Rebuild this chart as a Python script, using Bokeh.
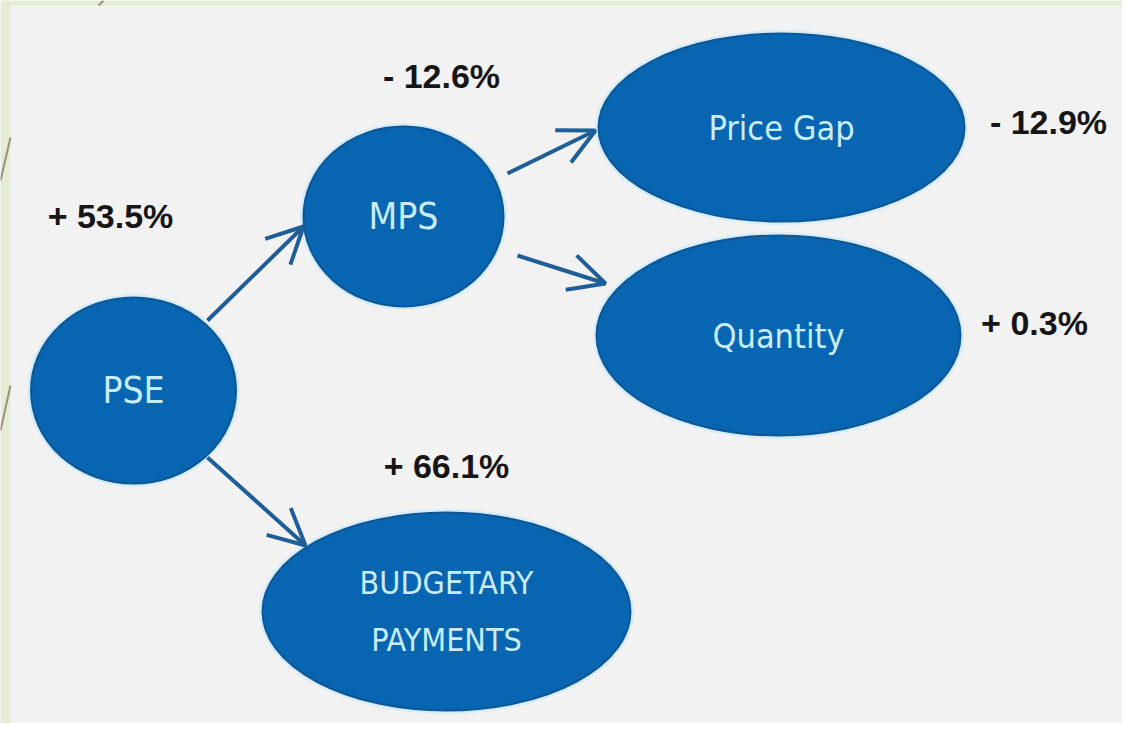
from bokeh.plotting import figure
from bokeh.models import Range1d, Arrow, OpenHead, ColumnDataSource
from bokeh.core.properties import value
from bokeh.embed import file_html
from bokeh.resources import INLINE

# ---- data ----
nodes = ["PSE", "MPS", "Price Gap", "Quantity", "BUDGETARY\nPAYMENTS"]
change_pct = [53.5, -12.6, -12.9, 0.3, 66.1]
edge_from = ["PSE", "PSE", "MPS", "MPS"]
edge_to = ["MPS", "BUDGETARY\nPAYMENTS", "Price Gap", "Quantity"]

# ---- layout (pixel space of the picture) ----
node_cx = [133, 403, 781, 778, 446]
node_cy = [390, 216, 127, 335, 611]
node_w = [205, 200, 366, 364, 368]
node_h = [186, 180, 188, 200, 198]
node_fs = ["37px", "37px", "34px", "34px", "32px"]
label_cx = [110, 441, 1048, 1034, 446]
label_cy = [215, 75, 121, 322, 465]
arrow_start = {("PSE", "MPS"): (207, 320), ("PSE", "BUDGETARY\nPAYMENTS"): (207, 457),
               ("MPS", "Price Gap"): (507, 173), ("MPS", "Quantity"): (517, 255)}
arrow_tip = {("PSE", "MPS"): (303, 226), ("PSE", "BUDGETARY\nPAYMENTS"): (305, 545),
             ("MPS", "Price Gap"): (595, 130), ("MPS", "Quantity"): (605, 283)}

W, H = 1122, 723
p = figure(width=W, height=H, x_range=Range1d(0, W), y_range=Range1d(H, 0),
           output_backend="svg", toolbar_location=None, min_border=0)
p.axis.visible = False
p.grid.visible = False
p.outline_line_color = None
p.background_fill_color = "#f2f2f2"
p.border_fill_color = "#f2f2f2"

# slide decoration (left and top strips)
p.quad(left=[0, 0], right=[10, W], bottom=[H, 5], top=[0, 0], fill_color="#e6ebd3", line_color=None)
p.segment(x0=[10, 10, 103], y0=[137, 385, 0], x1=[0, 0, 98], y1=[180, 430, 5],
          line_color="#857d62", line_width=2, line_alpha=0.8)

# arrows
for a, b in zip(edge_from, edge_to):
    x0, y0 = arrow_start[(a, b)]
    x1, y1 = arrow_tip[(a, b)]
    p.add_layout(Arrow(end=OpenHead(size=36, line_color="#1f5e98", line_width=4),
                       x_start=x0, y_start=y0, x_end=x1, y_end=y1,
                       line_color="#1f5e98", line_width=4))

src = ColumnDataSource(dict(x=node_cx, y=node_cy, w=node_w, h=node_h, name=nodes, fs=node_fs))
p.ellipse(x="x", y="y", width="w", height="h", source=src, fill_color=None,
          line_color="#d6ecf8", line_width=7)
p.ellipse(x="x", y="y", width="w", height="h", source=src, fill_color="#0765b1",
          line_color="#0e5796", line_width=2)
p.text(x="x", y="y", text="name", source=src, text_align="center", text_baseline="middle",
       text_font=value("DejaVu Sans Condensed"), text_font_size="fs", text_color="#c9ecfb",
       text_line_height=1.5)

labels = [("+ " if v > 0 else "- ") + f"{abs(v):.1f}%" for v in change_pct]
lsrc = ColumnDataSource(dict(x=label_cx, y=label_cy, t=labels))
p.text(x="x", y="y", text="t", source=lsrc, text_align="center", text_baseline="middle",
       text_font=value("Liberation Sans"), text_font_style="bold",
       text_font_size="34px", text_color="#161616")

open("out.html", "w").write(file_html(p, INLINE))
